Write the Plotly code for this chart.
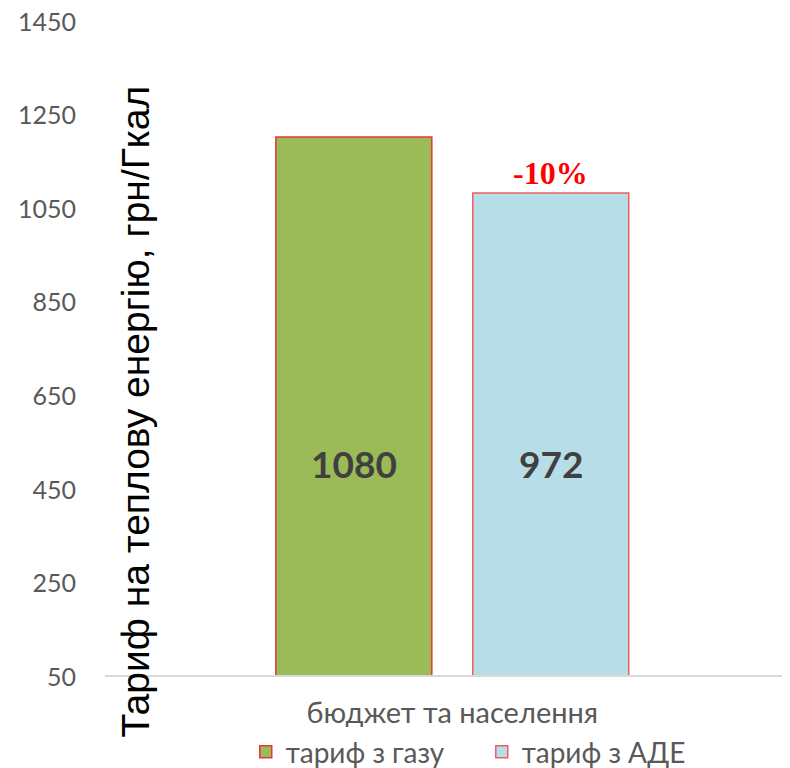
import plotly.graph_objects as go

categories = ["бюджет та населення"]
series_names = ["тариф з газу", "тариф з АДЕ"]
bar_values = [1200, 1080]
label_texts = ["1080", "972"]
change_label = "-10%"
y_ticks = [50, 250, 450, 650, 850, 1050, 1250, 1450]
y_title = "Тариф на теплову енергію, грн/Гкал"

fills = ["#9BBB59", "#B7DDE8"]
outlines = ["rgb(228,55,55)", "rgb(240,95,95)"]

# page has an 8px body margin; figure is sized to fit inside the window
W, H = 782, 760
L, R, T, B = 97, 0, 12, 93
PW, PH = W - L - R, H - T - B

fig = go.Figure()
for name, val, fc, lc in zip(series_names, bar_values, fills, outlines):
    fig.add_trace(go.Bar(
        x=categories, y=[val], name=name,
        marker=dict(color=fc, line=dict(color=lc, width=1.5)),
        hoverinfo="skip",
    ))

annotations = []
offsets = [-98.5, 98.5]
for txt, off in zip(label_texts, offsets):
    annotations.append(dict(
        x=categories[0], y=503, xref="x", yref="y", text=f"<b>{txt}</b>",
        showarrow=False, xshift=off,
        font=dict(family="Lato", size=37, color="#404040"),
    ))
annotations.append(dict(
    x=categories[0], y=bar_values[1], xref="x", yref="y", text=f"<b>{change_label}</b>",
    showarrow=False, xshift=offsets[1], yanchor="bottom", yshift=0,
    font=dict(family="Liberation Serif", size=32, color="#FF0000"),
))
annotations.append(dict(
    x=(127 - L) / PW, y=(T + PH - 403.5) / PH, xref="paper", yref="paper",
    text=y_title, textangle=-90, showarrow=False,
    xanchor="center", yanchor="middle",
    font=dict(family="Liberation Sans", size=39, color="#000000"),
))

fig.update_layout(
    width=W, height=H,
    margin=dict(l=L, r=R, t=T, b=B, autoexpand=False),
    paper_bgcolor="white", plot_bgcolor="white",
    barmode="group", bargap=0.425, bargroupgap=0.208,
    showlegend=True,
    legend=dict(orientation="h", x=0.55, xanchor="center",
                y=-(744 - (T + PH)) / PH, yanchor="middle",
                font=dict(family="Lato", size=28, color="#595959"),
                traceorder="normal", entrywidth=191),
    annotations=annotations,
)
fig.update_xaxes(
    range=[-0.507, 0.493], showline=True, linecolor="#D9D9D9", linewidth=1.5,
    showgrid=False, ticks="", tickfont=dict(family="Lato", size=29, color="#595959"),
    ticklabelstandoff=11,
)
fig.update_yaxes(
    range=[50, 1450], tickvals=y_ticks, ticktext=[str(v) for v in y_ticks],
    showgrid=False, zeroline=False, showline=False, ticks="",
    tickfont=dict(family="Lato", size=25, color="#595959"),
    ticklabelstandoff=28, ticklabeloverflow="allow", ticklabelshift=2,
)

fig.write_html("out.html")
